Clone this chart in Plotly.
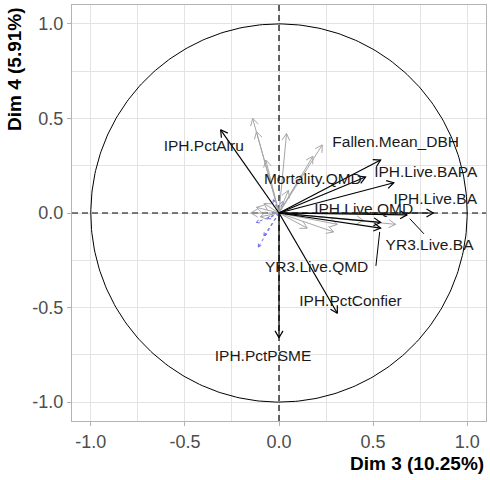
import math
import numpy as np
import plotly.graph_objects as go

# Active variables shown with labels (coordinates on Dim 3 / Dim 4)
var_names = ["IPH.PctAlru", "IPH.PctPSME", "IPH.PctConfier", "Fallen.Mean_DBH",
             "IPH.Live.BAPA", "Mortality.QMD", "IPH.Live.BA", "IPH.Live.QMD",
             "YR3.Live.BA", "YR3.Live.QMD"]
var_dim3 = [-0.31, 0.00, 0.31, 0.54, 0.61, 0.46, 0.82, 0.54, 0.68, 0.54]
var_dim4 = [0.44, -0.66, -0.53, 0.28, 0.16, 0.19, 0.00, -0.05, -0.01, -0.08]

# Repelled label positions
label_dim3 = [-0.40, -0.085, 0.38, 0.62, 0.78, 0.18, 0.83, 0.45, 0.80, 0.20]
label_dim4 = [0.35, -0.76, -0.47, 0.37, 0.21, 0.175, 0.07, 0.016, -0.175, -0.29]

# Leader segments for labels pushed away from their arrows (label end -> arrow tip)
leader_from_x = [0.515, 0.77]
leader_from_y = [-0.28, -0.11]
leader_to_x = [0.535, 0.695]
leader_to_y = [-0.10, -0.03]

# Other active variables (unlabelled)
other_dim3 = [-0.14, -0.12, -0.07, 0.04, 0.23, 0.18, 0.12, 0.29, 0.31,
              -0.15, -0.12, -0.10, -0.08, 0.15, 0.05, 0.62, 0.45]
other_dim4 = [0.50, 0.43, 0.28, 0.42, 0.36, 0.30, 0.20, -0.10, -0.06,
              0.00, 0.03, -0.02, 0.05, -0.08, 0.12, -0.06, -0.04]

# Supplementary variables
sup_dim3 = [-0.11, -0.08, -0.12, -0.03, 0.02, -0.06]
sup_dim4 = [-0.18, -0.12, -0.05, 0.07, 0.06, -0.03]


def arrow_paths(xs, ys, head=0.042, spread=math.pi / 6):
    """Shafts and open V heads, joined with None breaks."""
    sx, sy, hx, hy = [], [], [], []
    for x, y in zip(xs, ys):
        sx += [0, x, None]
        sy += [0, y, None]
        th = math.atan2(y, x)
        a1, a2 = th + math.pi - spread, th + math.pi + spread
        hx += [x + head * math.cos(a1), x, x + head * math.cos(a2), None]
        hy += [y + head * math.sin(a1), y, y + head * math.sin(a2), None]
    return sx, sy, hx, hy


fig = go.Figure()

# Reference axes through the origin
fig.add_trace(go.Scatter(x=[-1.1, 1.1], y=[0, 0], mode="lines",
                         line=dict(color="black", width=1.2, dash="6px,4px"),
                         hoverinfo="skip"))
fig.add_trace(go.Scatter(x=[0, 0], y=[-1.1, 1.1], mode="lines",
                         line=dict(color="black", width=1.2, dash="6px,4px"),
                         hoverinfo="skip"))

# Correlation circle
t = np.linspace(0, 2 * np.pi, 361)
fig.add_trace(go.Scatter(x=np.cos(t), y=np.sin(t), mode="lines",
                         line=dict(color="black", width=1), hoverinfo="skip"))

# Supplementary variables: blue dashed
sx, sy, hx, hy = arrow_paths(sup_dim3, sup_dim4, head=0.018)
fig.add_trace(go.Scatter(x=sx, y=sy, mode="lines",
                         line=dict(color="#6a6af0", width=1, dash="3px,3px"),
                         hoverinfo="skip"))
fig.add_trace(go.Scatter(x=hx, y=hy, mode="lines",
                         line=dict(color="#6a6af0", width=1),
                         hoverinfo="skip"))

# Unlabelled active variables: grey
sx, sy, hx, hy = arrow_paths(other_dim3, other_dim4)
fig.add_trace(go.Scatter(x=sx, y=sy, mode="lines",
                         line=dict(color="#a6a6a6", width=1), hoverinfo="skip"))
fig.add_trace(go.Scatter(x=hx, y=hy, mode="lines",
                         line=dict(color="#a6a6a6", width=1), hoverinfo="skip"))

# Labelled active variables: black
sx, sy, hx, hy = arrow_paths(var_dim3, var_dim4)
fig.add_trace(go.Scatter(x=sx, y=sy, mode="lines",
                         line=dict(color="black", width=1.2), hoverinfo="skip"))
fig.add_trace(go.Scatter(x=hx, y=hy, mode="lines",
                         line=dict(color="black", width=1.2), hoverinfo="skip"))

# Label leader segments
lx, ly = [], []
for a, b, c, d in zip(leader_from_x, leader_from_y, leader_to_x, leader_to_y):
    lx += [a, c, None]
    ly += [b, d, None]
fig.add_trace(go.Scatter(x=lx, y=ly, mode="lines",
                         line=dict(color="black", width=1), hoverinfo="skip"))

# Variable labels
fig.add_trace(go.Scatter(x=label_dim3, y=label_dim4, mode="text", text=var_names,
                         textposition="middle center",
                         textfont=dict(family="Liberation Sans, Arial", size=15.5,
                                       color="#1a1a1a"),
                         hoverinfo="skip"))

grid_col = "#e3e3e3"
axis_common = dict(
    range=[-1.1, 1.1], tickvals=[-1, -0.5, 0, 0.5, 1],
    ticktext=["-1.0", "-0.5", "0.0", "0.5", "1.0"],
    showgrid=True, gridcolor=grid_col, gridwidth=1,
    minor=dict(tickvals=[-0.75, -0.25, 0.25, 0.75], showgrid=True,
               gridcolor=grid_col, gridwidth=1),
    zeroline=False, showline=True, mirror=True, linecolor="#b3b3b3", linewidth=1,
    ticks="outside", ticklen=4, tickcolor="#b3b3b3", tickwidth=1,
    tickfont=dict(family="Liberation Sans, Arial", size=18, color="#4d4d4d"),
)

fig.update_layout(
    width=490, height=480,
    margin=dict(l=72, r=4, t=5, b=59),
    plot_bgcolor="white", paper_bgcolor="white",
    showlegend=False,
    xaxis=axis_common,
    yaxis=axis_common,
    annotations=[
        dict(text="<b>Dim 3 (10.25%)</b>", xref="paper", yref="paper",
             x=1, y=0, xanchor="right", yanchor="middle", yshift=-42,
             showarrow=False,
             font=dict(family="Liberation Sans, Arial", size=19, color="black")),
        dict(text="<b>Dim 4 (5.91%)</b>", xref="paper", yref="paper",
             x=0, y=1, xanchor="center", yanchor="top", xshift=-58,
             textangle=-90, showarrow=False,
             font=dict(family="Liberation Sans, Arial", size=19, color="black")),
    ],
)

fig.write_html("out.html")
